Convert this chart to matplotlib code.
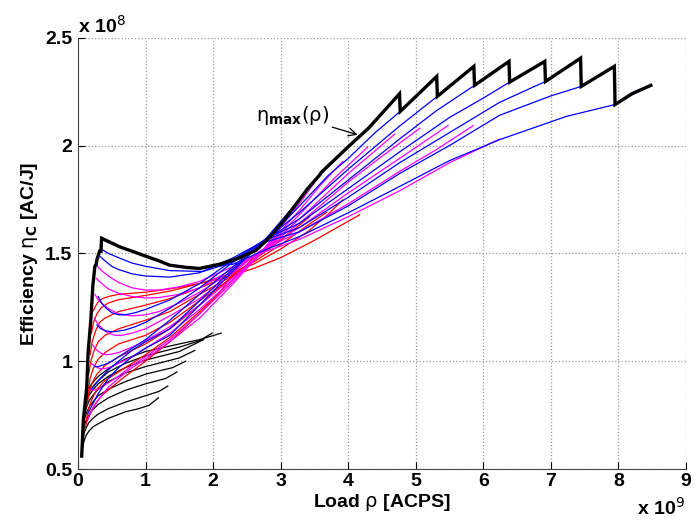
import numpy as np
import matplotlib
matplotlib.use("Agg")
import matplotlib.pyplot as plt

plt.rcParams['font.family'] = ['Liberation Sans', 'DejaVu Sans']
plt.rcParams['mathtext.fontset'] = 'dejavusans'

# load rho (x 1e9) and efficiency eta (x 1e8)
# black curves (1 core), short -> long
black_x = [
    [0.07, 0.09, 0.12, 0.16, 0.22, 0.30, 0.45, 0.70, 0.90, 1.05, 1.19],
    [0.07, 0.09, 0.12, 0.16, 0.22, 0.30, 0.45, 0.70, 1.00, 1.20, 1.33],
    [0.07, 0.09, 0.12, 0.16, 0.22, 0.30, 0.45, 0.70, 1.00, 1.30, 1.465],
    [0.08, 0.10, 0.13, 0.17, 0.23, 0.30, 0.45, 0.70, 1.00, 1.40, 1.595],
    [0.08, 0.10, 0.13, 0.17, 0.23, 0.30, 0.45, 0.70, 1.00, 1.50, 1.73],
    [0.08, 0.10, 0.13, 0.17, 0.23, 0.30, 0.45, 0.70, 1.00, 1.50, 1.86],
    [0.09, 0.11, 0.14, 0.18, 0.24, 0.32, 0.45, 0.70, 1.00, 1.50, 1.80, 1.985],
    [0.09, 0.11, 0.14, 0.18, 0.24, 0.32, 0.45, 0.70, 1.00, 1.50, 1.80, 2.12],
]
black_y = [
    [0.60, 0.63, 0.655, 0.675, 0.695, 0.71, 0.735, 0.765, 0.78, 0.795, 0.83],
    [0.63, 0.665, 0.69, 0.715, 0.735, 0.755, 0.78, 0.81, 0.84, 0.86, 0.885],
    [0.66, 0.70, 0.725, 0.75, 0.775, 0.80, 0.83, 0.865, 0.895, 0.92, 0.95],
    [0.69, 0.735, 0.765, 0.79, 0.815, 0.84, 0.87, 0.905, 0.94, 0.97, 1.00],
    [0.71, 0.76, 0.79, 0.82, 0.845, 0.87, 0.905, 0.945, 0.975, 1.015, 1.05],
    [0.73, 0.78, 0.815, 0.845, 0.87, 0.895, 0.93, 0.97, 1.005, 1.045, 1.10],
    [0.75, 0.80, 0.835, 0.865, 0.89, 0.915, 0.95, 0.99, 1.025, 1.065, 1.095, 1.13],
    [0.77, 0.82, 0.855, 0.885, 0.91, 0.935, 0.965, 1.01, 1.045, 1.08, 1.10, 1.13],
]

# red curves (2 cores)
red_x = [
    [0.10, 0.13, 0.18, 0.25, 0.35, 0.50, 0.70, 1.00, 1.36, 1.80, 2.10, 2.38],
    [0.12, 0.15, 0.20, 0.28, 0.40, 0.60, 0.80, 1.00, 1.36, 1.80, 2.20, 2.45, 2.66],
    [0.13, 0.16, 0.21, 0.28, 0.40, 0.60, 0.80, 1.00, 1.36, 1.80, 2.20, 2.60, 2.93],
    [0.15, 0.18, 0.23, 0.30, 0.40, 0.60, 0.80, 1.00, 1.36, 1.80, 2.20, 2.60, 2.90, 3.19],
    [0.16, 0.19, 0.24, 0.30, 0.40, 0.60, 0.80, 1.00, 1.36, 1.80, 2.20, 2.60, 3.00, 3.43],
    [0.18, 0.21, 0.26, 0.32, 0.40, 0.60, 0.80, 1.00, 1.36, 1.80, 2.20, 2.60, 3.00, 3.40, 3.68],
    [0.20, 0.23, 0.28, 0.35, 0.45, 0.60, 0.80, 1.00, 1.36, 1.80, 2.20, 2.60, 3.00, 3.40, 3.70, 3.92],
    [0.22, 0.26, 0.30, 0.36, 0.45, 0.60, 0.80, 1.00, 1.36, 1.80, 2.20, 2.60, 3.00, 3.50, 4.17],
]
red_y = [
    [0.68, 0.72, 0.76, 0.80, 0.84, 0.88, 0.93, 1.00, 1.09, 1.22, 1.32, 1.44],
    [0.72, 0.77, 0.82, 0.87, 0.91, 0.95, 0.99, 1.03, 1.11, 1.23, 1.35, 1.43, 1.50],
    [0.79, 0.85, 0.90, 0.94, 0.98, 1.02, 1.05, 1.08, 1.15, 1.26, 1.37, 1.47, 1.56],
    [0.86, 0.92, 0.97, 1.01, 1.04, 1.08, 1.10, 1.12, 1.18, 1.28, 1.37, 1.47, 1.54, 1.61],
    [0.94, 1.00, 1.05, 1.09, 1.12, 1.15, 1.17, 1.19, 1.23, 1.31, 1.38, 1.47, 1.56, 1.67],
    [1.03, 1.09, 1.14, 1.18, 1.20, 1.23, 1.245, 1.26, 1.29, 1.34, 1.39, 1.46, 1.54, 1.63, 1.69],
    [1.13, 1.18, 1.22, 1.25, 1.27, 1.285, 1.295, 1.305, 1.325, 1.36, 1.40, 1.45, 1.52, 1.60, 1.68, 1.748],
    [1.23, 1.255, 1.275, 1.29, 1.30, 1.31, 1.315, 1.32, 1.335, 1.36, 1.39, 1.43, 1.48, 1.56, 1.679],
]

# magenta curves (3 cores)
mag_x = [
    [0.15, 0.20, 0.30, 0.45, 0.60, 0.80, 1.00, 1.36, 1.80, 2.30, 2.70, 3.00, 3.30, 3.55],
    [0.18, 0.22, 0.30, 0.40, 0.60, 0.80, 1.00, 1.36, 1.80, 2.30, 2.70, 3.28, 3.60, 3.92],
    [0.20, 0.26, 0.33, 0.40, 0.50, 0.60, 0.80, 1.00, 1.36, 1.80, 2.30, 2.70, 3.28, 3.80, 4.29],
    [0.22, 0.28, 0.35, 0.42, 0.50, 0.60, 0.80, 1.00, 1.36, 1.80, 2.30, 2.70, 3.28, 4.00, 4.69],
    [0.24, 0.30, 0.38, 0.45, 0.55, 0.65, 0.80, 1.00, 1.36, 1.80, 2.30, 2.70, 3.28, 4.00, 4.50, 5.06],
    [0.25, 0.30, 0.38, 0.47, 0.60, 0.80, 1.00, 1.20, 1.50, 1.80, 2.30, 2.70, 3.28, 4.00, 4.76, 5.48],
    [0.27, 0.35, 0.45, 0.60, 0.80, 1.00, 1.20, 1.50, 1.80, 2.30, 2.70, 3.28, 4.00, 4.76, 5.30, 5.85],
    [0.27, 0.35, 0.45, 0.60, 0.80, 1.00, 1.20, 1.50, 1.80, 2.30, 2.70, 3.28, 4.00, 4.76, 5.50, 6.24],
]
mag_y = [
    [0.73, 0.77, 0.82, 0.88, 0.92, 0.97, 1.01, 1.09, 1.20, 1.36, 1.50, 1.62, 1.74, 1.85],
    [0.87, 0.865, 0.87, 0.89, 0.93, 0.98, 1.02, 1.10, 1.22, 1.37, 1.50, 1.70, 1.82, 1.926],
    [0.99, 0.975, 0.965, 0.966, 0.975, 0.99, 1.02, 1.06, 1.13, 1.24, 1.38, 1.50, 1.68, 1.85, 1.993],
    [1.075, 1.05, 1.035, 1.03, 1.033, 1.04, 1.065, 1.095, 1.16, 1.26, 1.39, 1.50, 1.66, 1.87, 2.053],
    [1.20, 1.17, 1.145, 1.13, 1.12, 1.12, 1.13, 1.15, 1.21, 1.29, 1.41, 1.51, 1.64, 1.83, 1.95, 2.08],
    [1.31, 1.285, 1.26, 1.24, 1.22, 1.21, 1.215, 1.23, 1.27, 1.32, 1.42, 1.51, 1.62, 1.78, 1.94, 2.093],
    [1.385, 1.36, 1.335, 1.315, 1.30, 1.293, 1.295, 1.31, 1.34, 1.43, 1.51, 1.60, 1.73, 1.88, 1.98, 2.092],
    [1.446, 1.42, 1.395, 1.365, 1.34, 1.33, 1.33, 1.345, 1.37, 1.44, 1.50, 1.565, 1.67, 1.79, 1.92, 2.03],
]

# blue curves (4 cores)
blue_x = [
    [0.15, 0.20, 0.30, 0.45, 0.60, 0.80, 1.00, 1.36, 1.80, 2.30, 2.80, 3.28, 3.58, 4.00, 4.40, 4.76],
    [0.20, 0.30, 0.45, 0.60, 0.80, 1.00, 1.36, 1.80, 2.30, 2.80, 3.28, 3.70, 4.00, 4.40, 4.77, 5.05, 5.31],
    [0.25, 0.30, 0.40, 0.50, 0.60, 0.80, 1.00, 1.36, 1.80, 2.30, 2.80, 3.28, 4.00, 4.76, 5.32, 5.60, 5.86],
    [0.28, 0.33, 0.40, 0.47, 0.55, 0.70, 0.85, 1.00, 1.36, 1.80, 2.30, 2.80, 3.28, 4.00, 4.76, 5.30, 5.87, 6.38],
    [0.30, 0.35, 0.42, 0.50, 0.60, 0.70, 0.85, 1.00, 1.36, 1.80, 2.30, 2.80, 3.28, 4.00, 4.76, 5.50, 6.00, 6.39, 6.91],
    [0.33, 0.40, 0.50, 0.60, 0.80, 1.00, 1.36, 1.80, 2.30, 2.80, 3.28, 4.00, 4.76, 5.50, 6.24, 6.92, 7.44],
    [0.365, 0.45, 0.60, 0.80, 1.00, 1.36, 1.85, 2.30, 2.80, 3.28, 4.00, 4.76, 5.50, 6.24, 7.00, 7.45, 7.94],
    [0.35, 0.45, 0.62, 0.80, 1.02, 1.36, 1.80, 2.30, 2.80, 3.28, 4.00, 4.76, 5.50, 6.24, 7.23, 7.95, 8.20, 8.48],
]
blue_y = [
    [0.76, 0.79, 0.85, 0.92, 0.97, 1.02, 1.06, 1.12, 1.26, 1.42, 1.575, 1.75, 1.864, 1.995, 2.115, 2.24],
    [0.87, 0.91, 0.96, 1.00, 1.05, 1.09, 1.15, 1.28, 1.43, 1.565, 1.72, 1.86, 1.94, 2.06, 2.158, 2.24, 2.32],
    [0.975, 0.975, 0.985, 1.00, 1.02, 1.06, 1.10, 1.19, 1.31, 1.44, 1.57, 1.69, 1.89, 2.09, 2.228, 2.30, 2.367],
    [1.168, 1.152, 1.142, 1.137, 1.137, 1.145, 1.16, 1.18, 1.245, 1.34, 1.46, 1.57, 1.66, 1.84, 2.03, 2.16, 2.279, 2.39],
    [1.30, 1.27, 1.245, 1.225, 1.215, 1.215, 1.225, 1.24, 1.284, 1.36, 1.47, 1.57, 1.64, 1.80, 1.97, 2.13, 2.22, 2.294, 2.39],
    [1.485, 1.465, 1.44, 1.425, 1.405, 1.395, 1.39, 1.41, 1.48, 1.565, 1.62, 1.76, 1.92, 2.06, 2.20, 2.297, 2.405],
    [1.516, 1.50, 1.48, 1.455, 1.44, 1.42, 1.416, 1.46, 1.555, 1.60, 1.72, 1.87, 2.00, 2.14, 2.23, 2.274, 2.367],
    [1.565, 1.55, 1.53, 1.51, 1.485, 1.447, 1.43, 1.45, 1.52, 1.578, 1.688, 1.81, 1.93, 2.027, 2.135, 2.19, 2.235, 2.279],
]

# upper envelope eta_max(rho)
env_x = [0.055, 0.08, 0.13, 0.15, 0.19, 0.22, 0.25, 0.27, 0.28, 0.32, 0.34, 0.35,
         0.62, 0.80, 1.02, 1.20, 1.36, 1.60, 1.80, 2.10, 2.40, 2.64, 2.84, 3.04,
         3.24, 3.40, 3.58, 3.60, 4.02, 4.30, 4.76, 4.77, 5.31, 5.32, 5.86, 5.87,
         6.38, 6.39, 6.91, 6.92, 7.44, 7.45, 7.94, 7.95, 8.20, 8.48]
env_y = [0.56, 0.73, 0.88, 1.04, 1.19, 1.35, 1.44, 1.45, 1.47, 1.51, 1.51, 1.57,
         1.53, 1.51, 1.485, 1.465, 1.445, 1.435, 1.43, 1.45, 1.48, 1.515, 1.575, 1.65,
         1.733, 1.80, 1.864, 1.875, 2.00, 2.08, 2.24, 2.158, 2.32, 2.228, 2.367, 2.279,
         2.39, 2.294, 2.39, 2.297, 2.405, 2.274, 2.367, 2.19, 2.24, 2.279]

fig = plt.figure(figsize=(6.95, 5.27), dpi=100)
ax = fig.add_axes([0.1122, 0.110, 0.8748, 0.8185])

for xs, ys in zip(black_x, black_y):
    ax.plot(xs, ys, color='k', lw=0.9)
for xs, ys in zip(red_x, red_y):
    ax.plot(xs, ys, color='#ff0000', lw=0.9)
for xs, ys in zip(mag_x, mag_y):
    ax.plot(xs, ys, color='#ff00ff', lw=0.9)
for xs, ys in zip(blue_x, blue_y):
    ax.plot(xs, ys, color='#0000ff', lw=0.9)
ax.plot(env_x, env_y, color='k', lw=2.4, solid_joinstyle='miter')

ax.annotate(r'$\mathrm{\eta}_{\mathbf{max}}\mathrm{(\rho)}$', xy=(4.14, 2.05), xytext=(3.18, 2.14),
            fontsize=14, ha='center', va='center',
            arrowprops=dict(arrowstyle='->', color='k', lw=0.9,
                            shrinkA=24, shrinkB=0))

ax.set_xlim(0, 9)
ax.set_ylim(0.5, 2.5)
ax.set_xticks(range(10))
ax.set_xticklabels([str(i) for i in range(10)])
ax.set_yticks([0.5, 1, 1.5, 2, 2.5])
ax.set_yticklabels(['0.5', '1', '1.5', '2', '2.5'])
ax.tick_params(direction='in', length=5, labelsize=14)
ax.tick_params(axis='x', pad=3)
ax.tick_params(axis='y', pad=4)
for lab in ax.get_xticklabels() + ax.get_yticklabels():
    lab.set_fontweight('bold')
ax.grid(True, linestyle=':', color='#999999', lw=0.9)
ax.spines['top'].set_visible(False)
ax.spines['right'].set_visible(False)
ax.spines['left'].set_color('#444444')
ax.spines['bottom'].set_color('#444444')

ax.set_xlabel(r'Load $\mathrm{\rho}$ [ACPS]', fontsize=14, fontweight='bold', labelpad=1)
ax.set_ylabel(r'Efficiency $\mathrm{\eta}_\mathbf{C}$ [AC/J]', fontsize=14, fontweight='bold', labelpad=4)

fig.text(0.112, 0.930, r'x 10$^{8}$', fontsize=14, fontweight='bold', ha='left', va='bottom')
fig.text(0.985, 0.015, r'x 10$^{9}$', fontsize=14, fontweight='bold', ha='right', va='bottom')

fig.savefig('out.png', dpi=100)
